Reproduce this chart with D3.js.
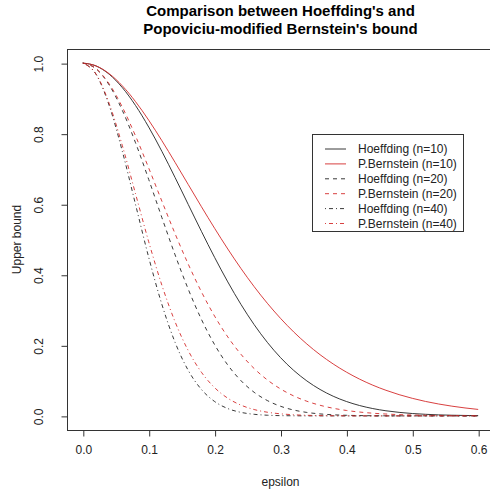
<!DOCTYPE html>
<html>
<head>
<meta charset="utf-8">
<script src="https://cdn.jsdelivr.net/npm/d3@7"></script>
<style>
  body { margin: 0; background: #fff; }
  svg { display: block; font-family: "Liberation Sans", Arial, sans-serif; }
</style>
</head>
<body>
<div id="chart"></div>
<script>
// epsilon grid
const eps = [0, 0.02, 0.04, 0.06, 0.08, 0.10, 0.12, 0.14, 0.16, 0.18, 0.20,
  0.22, 0.24, 0.26, 0.28, 0.30, 0.32, 0.34, 0.36, 0.38, 0.40,
  0.42, 0.44, 0.46, 0.48, 0.50, 0.52, 0.54, 0.56, 0.58, 0.60];

// values
const hoef10 = [1, 0.992, 0.9685, 0.9305, 0.8799, 0.8187, 0.7498, 0.6757, 0.5993, 0.5231, 0.4493,
  0.3798, 0.316, 0.2587, 0.2085, 0.1653, 0.129, 0.0991, 0.0749, 0.0557, 0.0408,
  0.0294, 0.0208, 0.0145, 0.01, 0.0067, 0.0045, 0.0029, 0.0019, 0.0012, 0.0007];
const bern10 = [1, 0.9922, 0.9701, 0.9355, 0.8908, 0.8382, 0.7801, 0.7187, 0.6558, 0.593, 0.5318,
  0.4731, 0.4178, 0.3664, 0.3193, 0.2765, 0.238, 0.2038, 0.1735, 0.1471, 0.1241,
  0.1042, 0.0871, 0.0726, 0.0602, 0.0498, 0.041, 0.0337, 0.0276, 0.0225, 0.0183];
const hoef20 = [1, 0.9841, 0.938, 0.8659, 0.7742, 0.6703, 0.5621, 0.4566, 0.3592, 0.2736, 0.2019,
  0.1442, 0.0999, 0.0669, 0.0435, 0.0273, 0.0166, 0.0098, 0.0056, 0.0031, 0.0017,
  0.0009, 0.0004, 0.0002, 0.0001, 0, 0, 0, 0, 0, 0];
const bern20 = [1, 0.9845, 0.9411, 0.8752, 0.7935, 0.7026, 0.6086, 0.5165, 0.4301, 0.3517, 0.2828,
  0.2238, 0.1746, 0.1343, 0.102, 0.0765, 0.0566, 0.0415, 0.0301, 0.0216, 0.0154,
  0.0109, 0.0076, 0.0053, 0.0036, 0.0025, 0.0017, 0.0011, 0.0008, 0.0005, 0.0003];
const hoef40 = [1, 0.9685, 0.8799, 0.7498, 0.5993, 0.4493, 0.316, 0.2085, 0.129, 0.0749, 0.0408,
  0.0208, 0.01, 0.0045, 0.0019, 0.0007, 0.0003, 0.0001, 0, 0, 0,
  0, 0, 0, 0, 0, 0, 0, 0, 0, 0];
const bern40 = [1, 0.9692, 0.8857, 0.766, 0.6296, 0.4936, 0.3704, 0.2668, 0.185, 0.1237, 0.08,
  0.0501, 0.0305, 0.018, 0.0104, 0.0059, 0.0032, 0.0017, 0.0009, 0.0005, 0.0002,
  0.0001, 0, 0, 0, 0, 0, 0, 0, 0, 0];

const seriesNames = ["Hoeffding (n=10)", "P.Bernstein (n=10)", "Hoeffding (n=20)",
  "P.Bernstein (n=20)", "Hoeffding (n=40)", "P.Bernstein (n=40)"];
const seriesValues = [hoef10, bern10, hoef20, bern20, hoef40, bern40];
const xTicks = [0, 0.1, 0.2, 0.3, 0.4, 0.5, 0.6];
const yTicks = [0, 0.2, 0.4, 0.6, 0.8, 1.0];

const colors = ["#222", "#d42a2a", "#222", "#d42a2a", "#222", "#d42a2a"];
const dashes = [null, null, "4,4", "4,4", "1,3,4,3", "1,3,4,3"];

const width = 490, height = 493;
const box = { left: 67, right: 494, top: 49, bottom: 430 };

const svg = d3.select("#chart").append("svg")
  .attr("width", width)
  .attr("height", height);

// R style 4% padding on both axes
const x = d3.scaleLinear().domain([-0.024, 0.624]).range([box.left, box.right]);
const y = d3.scaleLinear().domain([-0.04, 1.04]).range([box.bottom, box.top]);

// title
svg.append("text")
  .attr("x", (box.left + box.right) / 2).attr("y", 16)
  .attr("text-anchor", "middle").attr("font-weight", "bold").attr("font-size", 15)
  .text("Comparison between Hoeffding's and");
svg.append("text")
  .attr("x", (box.left + box.right) / 2).attr("y", 34)
  .attr("text-anchor", "middle").attr("font-weight", "bold").attr("font-size", 15)
  .text("Popoviciu-modified Bernstein's bound");

// curves
const line = d3.line()
  .x((d, i) => x(eps[i]))
  .y(d => y(d))
  .curve(d3.curveMonotoneX);

seriesValues.forEach((vals, k) => {
  svg.append("path")
    .datum(vals)
    .attr("d", line)
    .attr("fill", "none")
    .attr("stroke", colors[k])
    .attr("stroke-width", 0.9)
    .attr("stroke-dasharray", dashes[k]);
});

// plot box
svg.append("rect")
  .attr("x", box.left + 0.5).attr("y", box.top + 0.5)
  .attr("width", box.right - box.left).attr("height", box.bottom - box.top)
  .attr("fill", "none").attr("stroke", "#333").attr("stroke-width", 1);

// x axis (only the ticks range, like R)
const xAxis = svg.append("g")
  .attr("transform", `translate(0.5,${box.bottom + 0.5})`)
  .call(d3.axisBottom(x).tickValues(xTicks).tickFormat(d3.format(".1f")).tickSize(6).tickPadding(9));
xAxis.select(".domain").attr("stroke", "none");
xAxis.selectAll("line").attr("stroke", "#333");
xAxis.selectAll("text").attr("font-size", 12).attr("fill", "#222").attr("font-family", "Liberation Sans, Arial, sans-serif");

// y axis
const yAxis = svg.append("g")
  .attr("transform", `translate(${box.left + 0.5},0.5)`)
  .call(d3.axisLeft(y).tickValues(yTicks).tickFormat(d3.format(".1f")).tickSize(6).tickPadding(0));
yAxis.select(".domain").attr("stroke", "none");
yAxis.selectAll("line").attr("stroke", "#333");
yAxis.selectAll("text")
  .attr("font-size", 12).attr("fill", "#222").attr("font-family", "Liberation Sans, Arial, sans-serif")
  .attr("x", null).attr("dy", null)
  .attr("text-anchor", "middle")
  .attr("transform", "translate(-25,0) rotate(-90)");

// axis titles
svg.append("text")
  .attr("x", (box.left + box.right) / 2).attr("y", 486)
  .attr("text-anchor", "middle").attr("font-size", 12).attr("fill", "#222")
  .text("epsilon");
svg.append("text")
  .attr("transform", `translate(21,${(box.top + box.bottom) / 2}) rotate(-90)`)
  .attr("text-anchor", "middle").attr("font-size", 12).attr("fill", "#222")
  .text("Upper bound");

// legend
const leg = svg.append("g").attr("transform", "translate(312,134)");
leg.append("rect")
  .attr("x", 0.5).attr("y", 0.5).attr("width", 151).attr("height", 97)
  .attr("fill", "#fff").attr("stroke", "#333");
seriesNames.forEach((name, k) => {
  const yy = 15 + k * 14.9;
  leg.append("line")
    .attr("x1", 13).attr("x2", 34).attr("y1", yy).attr("y2", yy)
    .attr("stroke", colors[k]).attr("stroke-width", 0.9)
    .attr("stroke-dasharray", dashes[k]);
  leg.append("text")
    .attr("x", 46).attr("y", yy + 4.3)
    .attr("font-size", 12).attr("fill", "#222")
    .text(name);
});
</script>
</body>
</html>
